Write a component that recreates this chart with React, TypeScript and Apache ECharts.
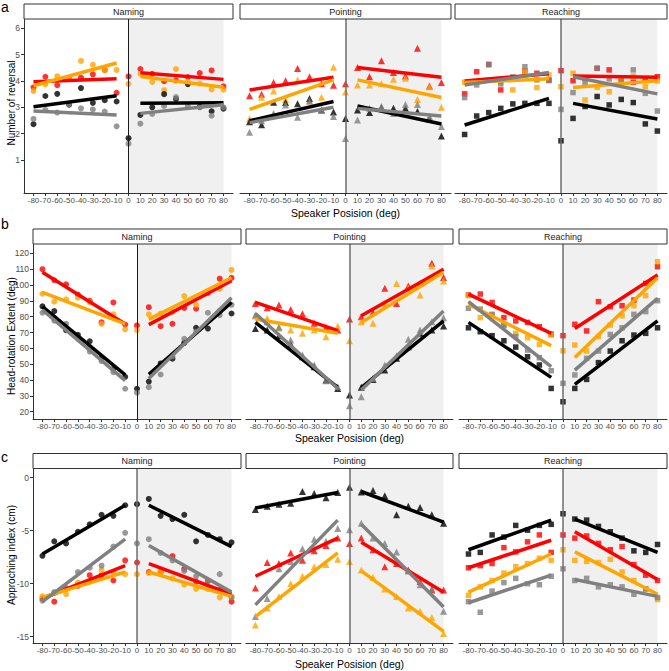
import React, { useEffect, useRef } from "react";
import * as echarts from "echarts";

// ---------- data ----------
const positions = [-80, -70, -60, -50, -40, -30, -20, -10, 0, 10, 20, 30, 40, 50, 60, 70, 80];
const reversalTicks = [1, 2, 3, 4, 5, 6];
const headTicks = [20, 30, 40, 50, 60, 70, 80, 90, 100, 110, 120];
const approachTicks = [-15, -10, -5, 0];
const conditions = ["Naming", "Pointing", "Reaching"];
const rowTitles = ["Number of reversal", "Head-rotation Extent (deg)", "Approching index (cm)"];
const xTitle = "Speaker Posision (deg)";
const panelLetters = ["a", "b", "c"];

// a: Number of reversal — values at positions; fits = [y(-80), y(-10), y(10), y(80)]
const revNamRed = [3.76, 4.16, 3.84, 4.12, 4.13, 4.25, 4.42, 3.55, 4.17, 4.45, 4.27, 3.99, 4.02, 4.15, 4.3, 4.4, 3.8];
const revNamOrange = [3.62, 3.87, 4.18, 4.12, 4.76, 4.61, 4.4, 4.42, 3.89, 4.27, 3.96, 3.65, 4.45, 3.97, 3.9, 3.68, 3.67];
const revNamBlack = [2.36, 3.43, 3.51, 3.1, 3.73, 3.17, 3.27, 3.22, 1.83, 2.71, 3.0, 3.5, 3.32, 3.88, 3.02, 2.85, 2.95];
const revNamGray = [2.56, 2.9, 2.8, 3.12, 2.96, 2.92, 2.84, 2.28, 1.62, 2.38, 2.75, 3.05, 3.39, 3.05, 3.0, 2.68, 3.0];
const revNamRedFit = [3.97, 4.08, 4.31, 4.06];
const revNamOrangeFit = [3.82, 4.68, 4.17, 3.76];
const revNamBlackFit = [3.02, 3.44, 3.15, 3.17];
const revNamGrayFit = [2.86, 2.71, 2.77, 3.1];

const revPntRed = [3.44, 3.5, 3.94, 4.01, 4.47, 4.16, 3.89, 3.84, 3.89, 4.51, 4.16, 4.77, 4.32, 4.19, 5.24, 3.81, 3.94];
const revPntOrange = [2.57, 3.38, 3.62, 3.3, 4.04, 3.24, 3.38, 4.52, 3.58, 3.85, 3.85, 3.89, 4.06, 4.1, 3.3, 3.78, 3.0];
const revPntBlack = [2.45, 2.34, 3.19, 3.18, 3.14, 3.33, 2.9, 2.82, 2.58, 2.9, 2.8, 2.99, 2.96, 2.96, 2.84, 2.56, 1.91];
const revPntGray = [2.05, 2.49, 2.77, 3.09, 2.62, 3.24, 2.9, 2.65, 1.82, 2.52, 2.96, 3.03, 2.77, 3.11, 3.11, 2.65, 2.27];
const revPntRedFit = [3.66, 4.14, 4.51, 4.14];
const revPntOrangeFit = [2.92, 4.04, 4.04, 3.37];
const revPntBlackFit = [2.49, 3.22, 3.05, 2.37];
const revPntGrayFit = [2.42, 3.0, 2.96, 2.67];

const revRchRed = [3.51, 4.35, 4.63, 3.66, 4.14, 4.38, 4.29, 4.04, 4.39, 4.01, 4.1, 4.48, 4.42, 4.1, 3.95, 4.04, 4.16];
const revRchOrange = [3.95, 3.97, 4.04, 3.97, 3.66, 4.38, 3.75, 4.23, 3.78, 4.29, 3.28, 3.76, 3.59, 4.06, 4.19, 3.78, 4.0];
const revRchBlack = [1.97, 2.67, 2.8, 2.96, 3.13, 3.15, 3.15, 3.15, 1.73, 2.58, 3.03, 3.41, 3.09, 3.3, 3.18, 2.37, 2.1];
const revRchGray = [3.37, 3.85, 4.61, 3.89, 4.14, 4.54, 4.04, 4.01, 2.92, 3.56, 3.91, 4.48, 4.08, 3.97, 4.42, 3.53, 2.86];
const revRchRedFit = [4.0, 4.27, 4.19, 4.14];
const revRchOrangeFit = [3.94, 4.08, 3.75, 4.01];
const revRchBlackFit = [2.33, 3.34, 3.15, 2.56];
const revRchGrayFit = [3.85, 4.32, 4.16, 3.51];

// b: Head-rotation extent
const headNamRed = [110, 103, 100.5, 94, 90, 76.5, 89, 75, 74.5, 86, 74, 75.5, 85.5, 85, 95, 104, 104.5];
const headNamOrange = [94.5, 89.5, 91, 92, 89, 75.5, 81.5, 72, 71.5, 81.5, 82, 83, 93, 87.5, 96, 97.5, 109.5];
const headNamBlack = [86.5, 83.5, 71.5, 68.5, 64.5, 54, 47, 42, 34.5, 39, 50.5, 53.5, 63.5, 73, 72.5, 83.5, 82];
const headNamGray = [82.5, 77.5, 75.5, 67, 58, 52, 45, 34.5, 32, 35.5, 43.5, 55, 66, 70.5, 82.5, 81, 87.5];
const headNamRedFit = [108, 75.4, 75, 102.7];
const headNamOrangeFit = [95.4, 75.4, 78.3, 104.6];
const headNamBlackFit = [86.3, 43.2, 43.6, 89];
const headNamGrayFit = [84.2, 39.6, 41, 92];

const headPntRed = [88.4, 85.7, 87.4, 84.6, 81.9, 75.8, 73.3, 71.6, 78.5, 80, 82.7, 97.9, 88.4, 99.4, 101, 113.7, 104.8];
const headPntOrange = [80.4, 79, 73.7, 71.6, 69.5, 71.6, 67.4, 74.1, 64.8, 76.8, 75.8, 88.4, 101, 97.9, 93.7, 112, 102.5];
const headPntBlack = [72.6, 71.6, 68, 62.7, 54.7, 48.4, 40, 34.7, 30.5, 35.4, 40.4, 46.3, 53.7, 61, 69.5, 71.6, 74.1];
const headPntGray = [81, 76.8, 73, 65.3, 55.8, 49.5, 39.6, 35.8, 23.8, 29.5, 41, 49.5, 55.4, 65.7, 71.6, 76.8, 79.4];
const headPntRedFit = [89, 71.2, 80.6, 110];
const headPntOrangeFit = [78.5, 69.5, 76.4, 108];
const headPntBlackFit = [76.4, 35.4, 35.2, 77.3];
const headPntGrayFit = [82, 34.7, 33.7, 83.6];

const headRchRed = [93.7, 94.3, 89, 79.4, 77.3, 76.4, 73.7, 69, 68, 75.2, 71, 89.5, 86.3, 86.9, 90.5, 101, 111.6];
const headRchOrange = [93.3, 79.4, 81, 74.7, 69.5, 66.7, 62.5, 68.4, 58.5, 62.1, 58.3, 67.4, 74.7, 80.6, 86.9, 93.3, 114.7];
const headRchBlack = [73, 70.5, 68, 64.8, 60.8, 54.7, 49.5, 34.7, 26.3, 34.7, 40.4, 51, 58.3, 64.8, 68.4, 69.5, 73];
const headRchGray = [85.3, 84.8, 81.5, 74.3, 67.4, 58.9, 54.1, 45.9, 37.9, 43.2, 53.7, 58.3, 68.8, 73, 81.5, 83.2, 90.1];
const headRchRedFit = [94.3, 69.5, 72.6, 106.3];
const headRchOrangeFit = [87.8, 61.7, 54.3, 104.6];
const headRchBlackFit = [76.4, 41.7, 37.3, 77.3];
const headRchGrayFit = [89.5, 48.4, 46.3, 91.6];

// c: Approaching index
const appNamRed = [-11.4, -11.7, -10.5, -10.2, -9.2, -9.2, -9.7, -7.8, -8, -8.9, -8.9, -7.4, -8.6, -9.8, -9.7, -10.6, -11.7];
const appNamOrange = [-11.2, -10.9, -11, -9.9, -9.8, -8.7, -8.9, -9.1, -9.1, -9, -8.9, -9.5, -10.1, -10.5, -10.5, -11.3, -11.2];
const appNamBlack = [-7.37, -6, -6.2, -5.1, -4.4, -3.5, -3.6, -2.6, -2.5, -2, -3.6, -3.9, -3.5, -6, -5.4, -5.8, -6.1];
const appNamGray = [-11.6, -10.8, -10.4, -8.9, -8.5, -8.3, -6.5, -5.2, -6.2, -5.8, -7.1, -7.8, -8.8, -9.3, -9.8, -9.1, -11.3];
const appNamRedFit = [-11.4, -8.3, -8.1, -11];
const appNamOrangeFit = [-11.3, -8.9, -8.9, -11.2];
const appNamBlackFit = [-7.2, -2.6, -2.6, -6.5];
const appNamGrayFit = [-11.7, -5.8, -6.4, -10.8];

const appPntRed = [-10.4, -8, -8.1, -7.1, -7.8, -6.9, -6.4, -5.7, -6.2, -5.7, -6.8, -8.4, -8.1, -8.7, -9.8, -10.6, -10.6];
const appPntOrange = [-13.9, -12.3, -11.2, -10, -9.3, -8.4, -8.2, -7.7, -7.9, -8.7, -9.4, -10.5, -11.2, -12.3, -12.6, -13.2, -14.7];
const appPntBlack = [-3, -2.7, -2.5, -2.4, -1.3, -1.5, -1.9, -1.4, -0.9, -1.35, -1.2, -1.7, -3.5, -2.7, -2.8, -3.5, -4.3];
const appPntGray = [-13.1, -11.4, -8.6, -7.9, -6.7, -5.8, -6, -4.8, -4.9, -4.3, -5.7, -6.2, -7, -8.8, -10.1, -10.5, -12.6];
const appPntRedFit = [-9.3, -5.7, -6.1, -10.8];
const appPntOrangeFit = [-13.1, -7.1, -8.8, -14.5];
const appPntBlackFit = [-2.85, -1.4, -1.3, -4.2];
const appPntGrayFit = [-12, -4, -4.4, -12.2];

const appRchRed = [-8.5, -8.3, -8.1, -6.6, -7, -6.05, -5.4, -7.05, -5.4, -5.7, -5.5, -6.2, -6.8, -6.5, -8.2, -9.2, -9.7];
const appRchOrange = [-11.1, -10.3, -9.7, -9, -8.4, -8.1, -7.6, -7.8, -6.8, -7.8, -7.9, -8, -7.7, -8.9, -9.7, -10.5, -11.5];
const appRchBlack = [-7.2, -7.05, -5.4, -5.6, -4.5, -4.95, -4.5, -4.4, -3.4, -3.9, -4, -4.6, -5.1, -5.7, -6.9, -7.05, -6.3];
const appRchGray = [-11.7, -12.7, -10.7, -9.9, -9.5, -10, -10.1, -9.3, -8.6, -9.7, -9.5, -10.3, -10.1, -10.3, -11, -10.5, -11.3];
const appRchRedFit = [-8.5, -5.9, -5.1, -9.6];
const appRchOrangeFit = [-10.8, -7.2, -7, -11];
const appRchBlackFit = [-6.8, -4, -3.9, -7.05];
const appRchGrayFit = [-11.8, -9.2, -9.6, -11.2];

// ---------- styling / layout ----------
const FONT = '"Liberation Sans", Arial, sans-serif';
const COLORS = { red: "#ff0000", orange: "#ffa500", black: "#000000", gray: "#808080" };
const SYMBOLS = ["circle", "triangle", "rect"];
const SYMBOL_SIZES = [6, 7, 5.5];

const rowLayout = [
  { top: 19, height: 174, min: -0.25, max: 6.35, ticks: reversalTicks, titleY: 103, xTitleY: 213, stripTop: 4, letterY: 7 },
  { top: 244, height: 175, min: 15.4, max: 125.9, ticks: headTicks, titleY: 336, xTitleY: 438, stripTop: 229, letterY: 224 },
  { top: 468.5, height: 174.5, min: -15.6, max: 0.87, ticks: approachTicks, titleY: 555, xTitleY: 664, stripTop: 453.5, letterY: 457 },
];
const colLayouts = [
  [{ left: 24, width: 209 }, { left: 240, width: 211 }, { left: 455, width: 212 }],
  [{ left: 33, width: 208 }, { left: 246, width: 207 }, { left: 459, width: 208 }],
  [{ left: 33, width: 208 }, { left: 246, width: 207 }, { left: 459, width: 208 }],
];

type Group = { color: string; values: number[]; fit: number[] };
const panelData: Group[][] = [
  [
    { color: COLORS.red, values: revNamRed, fit: revNamRedFit },
    { color: COLORS.orange, values: revNamOrange, fit: revNamOrangeFit },
    { color: COLORS.black, values: revNamBlack, fit: revNamBlackFit },
    { color: COLORS.gray, values: revNamGray, fit: revNamGrayFit },
  ],
  [
    { color: COLORS.red, values: revPntRed, fit: revPntRedFit },
    { color: COLORS.orange, values: revPntOrange, fit: revPntOrangeFit },
    { color: COLORS.black, values: revPntBlack, fit: revPntBlackFit },
    { color: COLORS.gray, values: revPntGray, fit: revPntGrayFit },
  ],
  [
    { color: COLORS.red, values: revRchRed, fit: revRchRedFit },
    { color: COLORS.orange, values: revRchOrange, fit: revRchOrangeFit },
    { color: COLORS.black, values: revRchBlack, fit: revRchBlackFit },
    { color: COLORS.gray, values: revRchGray, fit: revRchGrayFit },
  ],
  [
    { color: COLORS.red, values: headNamRed, fit: headNamRedFit },
    { color: COLORS.orange, values: headNamOrange, fit: headNamOrangeFit },
    { color: COLORS.black, values: headNamBlack, fit: headNamBlackFit },
    { color: COLORS.gray, values: headNamGray, fit: headNamGrayFit },
  ],
  [
    { color: COLORS.red, values: headPntRed, fit: headPntRedFit },
    { color: COLORS.orange, values: headPntOrange, fit: headPntOrangeFit },
    { color: COLORS.black, values: headPntBlack, fit: headPntBlackFit },
    { color: COLORS.gray, values: headPntGray, fit: headPntGrayFit },
  ],
  [
    { color: COLORS.red, values: headRchRed, fit: headRchRedFit },
    { color: COLORS.orange, values: headRchOrange, fit: headRchOrangeFit },
    { color: COLORS.black, values: headRchBlack, fit: headRchBlackFit },
    { color: COLORS.gray, values: headRchGray, fit: headRchGrayFit },
  ],
  [
    { color: COLORS.red, values: appNamRed, fit: appNamRedFit },
    { color: COLORS.orange, values: appNamOrange, fit: appNamOrangeFit },
    { color: COLORS.black, values: appNamBlack, fit: appNamBlackFit },
    { color: COLORS.gray, values: appNamGray, fit: appNamGrayFit },
  ],
  [
    { color: COLORS.red, values: appPntRed, fit: appPntRedFit },
    { color: COLORS.orange, values: appPntOrange, fit: appPntOrangeFit },
    { color: COLORS.black, values: appPntBlack, fit: appPntBlackFit },
    { color: COLORS.gray, values: appPntGray, fit: appPntGrayFit },
  ],
  [
    { color: COLORS.red, values: appRchRed, fit: appRchRedFit },
    { color: COLORS.orange, values: appRchOrange, fit: appRchOrangeFit },
    { color: COLORS.black, values: appRchBlack, fit: appRchBlackFit },
    { color: COLORS.gray, values: appRchGray, fit: appRchGrayFit },
  ],
];

function buildOption() {
  const grid: any[] = [];
  const xAxis: any[] = [];
  const yAxis: any[] = [];
  const series: any[] = [];
  const graphic: any[] = [];

  for (let r = 0; r < 3; r++) {
    const row = rowLayout[r];
    for (let c = 0; c < 3; c++) {
      const idx = r * 3 + c;
      const col = colLayouts[r][c];
      grid.push({ left: col.left, top: row.top, width: col.width, height: row.height });
      xAxis.push({
        gridIndex: idx,
        type: "value",
        min: -88,
        max: 88,
        axisLine: { show: true, onZero: false, lineStyle: { color: "#333", width: 1 } },
        axisTick: { show: true, length: 3, customValues: positions, lineStyle: { color: "#333" } },
        axisLabel: {
          customValues: positions,
          showMinLabel: true,
          showMaxLabel: true,
          hideOverlap: false,
          fontSize: 8,
          color: "#4d4d4d",
          margin: 3,
          fontFamily: FONT,
        },
        splitLine: { show: false },
      });
      const first = c === 0;
      yAxis.push({
        gridIndex: idx,
        type: "value",
        min: row.min,
        max: row.max,
        axisLine: { show: first, onZero: false, lineStyle: { color: "#333", width: 1 } },
        axisTick: { show: first, length: 3, customValues: row.ticks, lineStyle: { color: "#333" } },
        axisLabel: {
          show: first,
          customValues: row.ticks,
          showMinLabel: true,
          showMaxLabel: true,
          fontSize: 8.5,
          color: "#4d4d4d",
          margin: 4,
          fontFamily: FONT,
        },
        splitLine: { show: false },
      });
      // shaded right half
      series.push({
        type: "line",
        xAxisIndex: idx,
        yAxisIndex: idx,
        data: [],
        z: 0,
        silent: true,
        markArea: { silent: true, itemStyle: { color: "#f0f0f0" }, data: [[{ xAxis: 0 }, { xAxis: 80 }]] },
      });
      // vertical line at 0
      const vColor = c === 0 && r < 2 ? "#1a1a1a" : "#6e6e6e";
      series.push({
        type: "line",
        xAxisIndex: idx,
        yAxisIndex: idx,
        data: [],
        z: 1,
        silent: true,
        markLine: {
          silent: true,
          symbol: ["none", "none"],
          label: { show: false },
          lineStyle: { color: vColor, width: c === 0 && r < 2 ? 1 : 1.5, type: "solid" },
          data: [{ xAxis: 0 }],
        },
      });
      const groups = panelData[idx];
      groups.forEach((g) => {
        series.push({
          type: "scatter",
          xAxisIndex: idx,
          yAxisIndex: idx,
          symbol: SYMBOLS[c],
          symbolSize: SYMBOL_SIZES[c],
          itemStyle: { color: g.color, opacity: 0.8 },
          data: positions.map((x, k) => [x, g.values[k]]),
          z: 2,
          silent: true,
        });
      });
      groups.forEach((g) => {
        series.push({
          type: "line",
          xAxisIndex: idx,
          yAxisIndex: idx,
          symbol: "none",
          lineStyle: { color: g.color, width: 3.5 },
          data: [
            [positions[0], g.fit[0]],
            [positions[7], g.fit[1]],
          ],
          z: 3,
          silent: true,
        });
        series.push({
          type: "line",
          xAxisIndex: idx,
          yAxisIndex: idx,
          symbol: "none",
          lineStyle: { color: g.color, width: 3.5 },
          data: [
            [positions[9], g.fit[2]],
            [positions[16], g.fit[3]],
          ],
          z: 3,
          silent: true,
        });
      });
      // strip
      graphic.push({
        type: "rect",
        shape: { x: col.left, y: row.stripTop, width: col.width, height: row.top - row.stripTop },
        style: { fill: "#ffffff", stroke: "#333333", lineWidth: 1 },
        z: 10,
      });
      graphic.push({
        type: "text",
        x: col.left + col.width / 2,
        y: (row.stripTop + row.top) / 2,
        style: {
          text: conditions[c],
          font: `9px ${FONT}`,
          fill: "#1a1a1a",
          align: "center",
          verticalAlign: "middle",
          textAlign: "center",
          textVerticalAlign: "middle",
        },
        z: 11,
      });
    }
    // y title
    graphic.push({
      type: "text",
      x: 11,
      y: row.titleY,
      rotation: Math.PI / 2,
      style: {
        text: rowTitles[r],
        font: `10px ${FONT}`,
        fill: "#000",
        align: "center",
        verticalAlign: "middle",
        textAlign: "center",
        textVerticalAlign: "middle",
      },
      z: 11,
    });
    // x title
    const mid = colLayouts[r][1];
    graphic.push({
      type: "text",
      x: mid.left + mid.width / 2,
      y: row.xTitleY,
      style: {
        text: xTitle,
        font: `10.5px ${FONT}`,
        fill: "#000",
        align: "center",
        verticalAlign: "middle",
        textAlign: "center",
        textVerticalAlign: "middle",
      },
      z: 11,
    });
    // panel letter
    graphic.push({
      type: "text",
      x: 1,
      y: row.letterY,
      style: {
        text: panelLetters[r],
        font: `14px ${FONT}`,
        fill: "#000",
        align: "left",
        verticalAlign: "middle",
        textAlign: "left",
        textVerticalAlign: "middle",
      },
      z: 11,
    });
  }

  return { animation: false, backgroundColor: "#ffffff", grid, xAxis, yAxis, series, graphic };
}

export default function App() {
  const ref = useRef<HTMLDivElement>(null);
  useEffect(() => {
    document.body.style.margin = "0";
    if (!ref.current) return;
    const chart = echarts.init(ref.current, undefined, { renderer: "svg" });
    chart.setOption(buildOption() as any);
    return () => chart.dispose();
  }, []);
  return <div ref={ref} style={{ width: 669, height: 671 }} />;
}
